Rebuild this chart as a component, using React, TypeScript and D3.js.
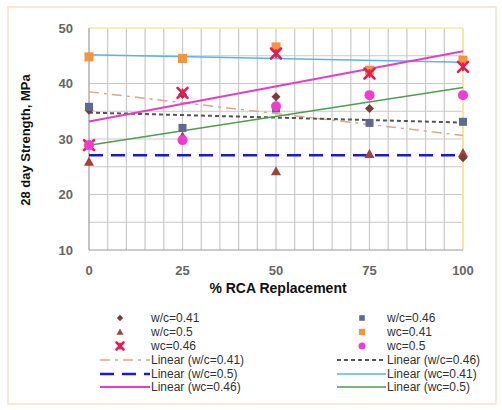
import * as d3 from 'd3'

// % RCA replacement levels
const rca = [0, 25, 50, 75, 100]

// 28 day strength (MPa) per mix
const wc041a = [35.2, 38.0, 37.6, 35.5, 26.6]
const wc046a = [35.8, 32.0, 35.5, 32.9, 33.1]
const wc050a = [25.9, 30.5, 24.2, 27.3, 27.5]
const wc041b = [44.8, 44.5, 46.6, 42.4, 44.2]
const wc046b = [28.9, 38.3, 45.4, 41.8, 43.0]
const wc050b = [28.9, 29.8, 35.9, 37.9, 37.9]

const xTicks = [0, 25, 50, 75, 100]
const yTicks = [10, 20, 30, 40, 50]

type Series = {
  name: string
  values: number[]
  marker: 'diamond' | 'square' | 'triangle' | 'x' | 'circle'
  color: string
  size: number
  trend: { color: string; width: number; dash?: string }
}

const series: Series[] = [
  { name: 'w/c=0.41', values: wc041a, marker: 'diamond', color: '#7e3a3a', size: 9, trend: { color: '#e3a585', width: 1.5, dash: '10,5,3,5' } },
  { name: 'w/c=0.46', values: wc046a, marker: 'square', color: '#5d6a8e', size: 8, trend: { color: '#555555', width: 2, dash: '4,3' } },
  { name: 'w/c=0.5', values: wc050a, marker: 'triangle', color: '#a3423c', size: 10, trend: { color: '#1a1ad0', width: 2.5, dash: '14,8' } },
  { name: 'wc=0.41', values: wc041b, marker: 'square', color: '#f7933f', size: 9, trend: { color: '#5ab4e6', width: 1.5 } },
  { name: 'wc=0.46', values: wc046b, marker: 'x', color: '#e01e55', size: 10, trend: { color: '#e43fc4', width: 2 } },
  { name: 'wc=0.5', values: wc050b, marker: 'circle', color: '#f23ccf', size: 10, trend: { color: '#4e9e4e', width: 1.5 } },
]

// order the markers are painted in (triangles sit underneath)
const drawOrder = [2, 0, 1, 3, 4, 5]

// least squares fit, as Excel's linear trendline
function fit(xs: number[], ys: number[]) {
  const mx = d3.mean(xs) as number
  const my = d3.mean(ys) as number
  const num = d3.sum(xs, (x, i) => (x - mx) * (ys[i] - my))
  const den = d3.sum(xs, x => (x - mx) ** 2)
  const slope = num / den
  return (x: number) => my + slope * (x - mx)
}

function Marker({ kind, cx, cy, size, color }: { kind: Series['marker']; cx: number; cy: number; size: number; color: string }) {
  const h = size / 2
  if (kind === 'diamond')
    return <path d={`M${cx},${cy - h}L${cx + h},${cy}L${cx},${cy + h}L${cx - h},${cy}Z`} fill={color} />
  if (kind === 'square')
    return <rect x={cx - h} y={cy - h} width={size} height={size} fill={color} />
  if (kind === 'triangle')
    return <path d={`M${cx},${cy - h}L${cx + h},${cy + h * 0.8}L${cx - h},${cy + h * 0.8}Z`} fill={color} />
  if (kind === 'circle') return <circle cx={cx} cy={cy} r={h} fill={color} />
  return (
    <g stroke={color} strokeWidth={2.6} strokeLinecap="round">
      <line x1={cx - h} y1={cy - h} x2={cx + h} y2={cy + h} />
      <line x1={cx - h} y1={cy + h} x2={cx + h} y2={cy - h} />
      <line x1={cx} y1={cy - h * 0.7} x2={cx} y2={cy + h * 0.7} strokeWidth={2} />
    </g>
  )
}

export default function App() {
  const width = 502
  const height = 410
  const x = d3.scaleLinear().domain([0, 100]).range([89, 463])
  const y = d3.scaleLinear().domain([10, 50]).range([250, 28])

  const vGrid = d3.range(5, 100, 5)
  const hGrid = d3.range(15, 50, 5)
  const font = 'Liberation Sans, Arial, sans-serif'

  const legendRows = [318, 332, 346, 360, 374, 387]
  const leftCol = { marker: 120, lineStart: 100, text: 151 }
  const rightCol = { marker: 362, lineStart: 337, text: 387 }

  return (
    <svg width={width} height={height} style={{ position: 'absolute', left: 0, top: 0, background: '#fff' }} fontFamily={font}>
      <rect x={8} y={7} width={488} height={397} fill="#fff" stroke="#f6dfc6" strokeWidth={1.5} />

      {/* grid */}
      <g stroke="#c9c9c9" strokeWidth={1.2}>
        {vGrid.map(v => (
          <line key={'v' + v} x1={x(v)} x2={x(v)} y1={y(50)} y2={y(10)} />
        ))}
        {hGrid.map(v => (
          <line key={'h' + v} x1={x(0)} x2={x(100)} y1={y(v)} y2={y(v)} />
        ))}
      </g>
      <line x1={x(0)} x2={x(100)} y1={y(50)} y2={y(50)} stroke="#f2e7a6" strokeWidth={1.5} />
      <line x1={x(100)} x2={x(100)} y1={y(50)} y2={y(10)} stroke="#f2e7a6" strokeWidth={2} />
      <line x1={x(0)} x2={x(0)} y1={y(50)} y2={y(10)} stroke="#9a9a9a" strokeWidth={1.2} />
      <line x1={x(0)} x2={x(100)} y1={y(10)} y2={y(10)} stroke="#9a9a9a" strokeWidth={1.2} />

      {/* ticks */}
      <g fill="#666" fontSize={13} fontWeight="bold">
        {yTicks.map(t => (
          <text key={t} x={73} y={y(t)} dy="0.35em" textAnchor="end">{t}</text>
        ))}
        {xTicks.map(t => (
          <text key={t} x={x(t)} y={275} textAnchor="middle">{t}</text>
        ))}
      </g>

      <text x={278} y={293} textAnchor="middle" fontSize={14} fontWeight="bold" fill="#111">% RCA Replacement</text>
      <text transform={`translate(30,140) rotate(-90)`} textAnchor="middle" fontSize={13} fontWeight="bold" fill="#111">28 day Strength, MPa</text>

      {/* trend lines */}
      {series.map(s => {
        const f = fit(rca, s.values)
        return (
          <line key={'t' + s.name} x1={x(0)} y1={y(f(0))} x2={x(100)} y2={y(f(100))}
            stroke={s.trend.color} strokeWidth={s.trend.width} strokeDasharray={s.trend.dash} />
        )
      })}

      {/* markers */}
      {drawOrder.map(k => series[k]).map(s => (
        <g key={'m' + s.name}>
          {s.values.map((v, i) => (
            <Marker key={i} kind={s.marker} cx={x(rca[i])} cy={y(v)} size={s.size} color={s.color} />
          ))}
        </g>
      ))}

      {/* legend */}
      <g fontSize={12} fill="#333">
        {series.map((s, i) => {
          const col = i % 2 === 0 ? leftCol : rightCol
          const row = legendRows[Math.floor(i / 2)]
          return (
            <g key={'l' + s.name}>
              <Marker kind={s.marker} cx={col.marker} cy={row} size={s.size * 0.7} color={s.color} />
              <text x={col.text} y={row} dy="0.35em">{s.name}</text>
            </g>
          )
        })}
        {series.map((s, i) => {
          const col = i % 2 === 0 ? leftCol : rightCol
          const row = legendRows[3 + Math.floor(i / 2)]
          return (
            <g key={'lt' + s.name}>
              <line x1={col.lineStart} x2={col.text - 1} y1={row} y2={row}
                stroke={s.trend.color} strokeWidth={s.trend.width} strokeDasharray={s.trend.dash} />
              <text x={col.text} y={row} dy="0.35em">{`Linear (${s.name})`}</text>
            </g>
          )
        })}
      </g>
    </svg>
  )
}
